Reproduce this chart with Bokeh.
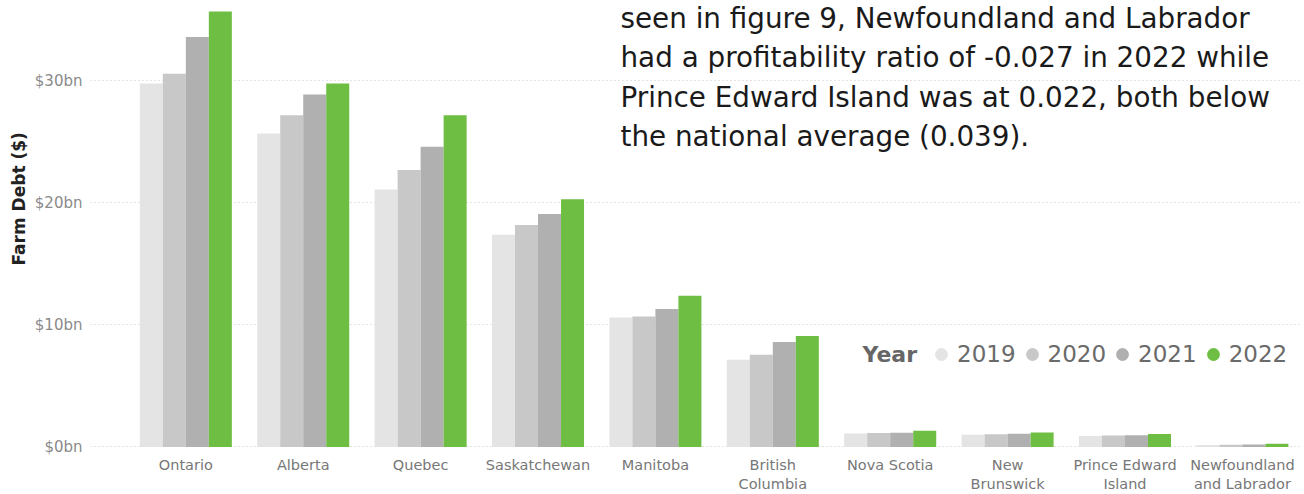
from bokeh.plotting import figure
from bokeh.models import (ColumnDataSource, Range1d, FixedTicker, Label, Legend, LegendItem)
from bokeh.transform import dodge
from bokeh.embed import file_html
from bokeh.resources import INLINE

# ---------------- data ----------------
provinces = ["Ontario", "Alberta", "Quebec", "Saskatchewan", "Manitoba",
             "British\nColumbia", "Nova Scotia", "New\nBrunswick",
             "Prince Edward\nIsland", "Newfoundland\nand Labrador"]
years = ["2019", "2020", "2021", "2022"]
debt_2019 = [29.8, 25.7, 21.1, 17.4, 10.6, 7.15, 1.10, 1.00, 0.90, 0.16]
debt_2020 = [30.6, 27.2, 22.7, 18.2, 10.7, 7.55, 1.13, 1.03, 0.93, 0.18]
debt_2021 = [33.6, 28.9, 24.6, 19.1, 11.3, 8.6, 1.15, 1.07, 0.96, 0.20]
debt_2022 = [35.7, 29.8, 27.2, 20.3, 12.4, 9.1, 1.32, 1.17, 1.06, 0.25]
y_ticks = [0, 10, 20, 30]
y_tick_labels = ["$0bn", "$10bn", "$20bn", "$30bn"]
year_colors = ["#e4e4e4", "#c8c8c8", "#b0b0b0", "#6fbe44"]

text_lines = ["seen in figure 9, Newfoundland and Labrador",
              "had a profitability ratio of -0.027 in 2022 while",
              "Prince Edward Island was at 0.022, both below",
              "the national average (0.039)."]

source = ColumnDataSource(dict(
    xi=list(range(len(provinces))),
    y2019=debt_2019, y2020=debt_2020, y2021=debt_2021, y2022=debt_2022,
))

p = figure(width=1304, height=494, output_backend="svg", toolbar_location=None,
           x_range=Range1d(-0.812, 9.495), y_range=Range1d(-0.05, 36.6),
           min_border_left=90, min_border_right=4, min_border_top=0,
           min_border_bottom=40)
p.outline_line_color = None
p.background_fill_color = "white"
p.border_fill_color = "white"

bw = 0.196
offsets = [-1.5 * bw, -0.5 * bw, 0.5 * bw, 1.5 * bw]
for yr, off, col in zip(years, offsets, year_colors):
    p.vbar(x=dodge("xi", off, range=p.x_range), top="y" + yr, bottom=0,
           width=bw, source=source, fill_color=col, line_color=None)

# axes
p.xaxis.ticker = FixedTicker(ticks=list(range(len(provinces))))
p.xaxis.major_label_overrides = {i: name for i, name in enumerate(provinces)}
p.xaxis.major_label_text_font = "DejaVu Sans"
p.xaxis.major_label_text_font_size = "14.5px"
p.xaxis.major_label_text_color = "#777777"
p.xaxis.major_label_standoff = 9
p.xaxis.axis_line_color = None
p.xaxis.major_tick_line_color = None
p.xaxis.minor_tick_line_color = None
p.xaxis.major_tick_out = 0
p.xaxis.major_tick_in = 0
p.xaxis.minor_tick_out = 0

p.yaxis.ticker = FixedTicker(ticks=y_ticks)
p.yaxis.major_label_overrides = {t: s for t, s in zip(y_ticks, y_tick_labels)}
p.yaxis.major_label_text_font = "DejaVu Sans"
p.yaxis.major_label_text_font_size = "15px"
p.yaxis.major_label_text_color = "#8a8a8a"
p.yaxis.major_label_standoff = 8
p.yaxis.axis_line_color = None
p.yaxis.major_tick_line_color = None
p.yaxis.minor_tick_line_color = None
p.yaxis.major_tick_out = 0
p.yaxis.major_tick_in = 0
p.yaxis.minor_tick_out = 0

p.xgrid.visible = False
p.ygrid.grid_line_color = "#c8c8c8"
p.ygrid.grid_line_dash = "1 3"
p.ygrid.grid_line_width = 1

# y axis title (as a left-side title, rotated)
p.title_location = "left"
p.title.text = "Farm Debt ($)"
p.title.text_font = "DejaVu Sans"
p.title.text_font_style = "bold"
p.title.text_font_size = "17px"
p.title.text_color = "#222222"
p.title.align = "left"
p.title.offset = 182
p.title.standoff = 6

# legend (circle markers from hidden scatter renderers)
legend_items = []
for yr, col in zip(years, year_colors):
    r = p.scatter(x="xi", y="y" + yr, source=source, marker="circle",
                  fill_color=col, line_color=None, visible=False)
    legend_items.append(LegendItem(label=yr, renderers=[r]))
legend = Legend(items=legend_items, orientation="horizontal",
                location=(835, 77), padding=0, margin=0, spacing=0,
                glyph_width=32, glyph_height=32, label_standoff=-7,
                label_text_font="DejaVu Sans", label_text_font_size="23px",
                label_text_color="#6a6a6a", click_policy="none",
                border_line_color=None, background_fill_alpha=0)
p.add_layout(legend)
p.add_layout(Label(x=772, y=93, x_units="screen", y_units="screen",
                   text="Year", text_font="DejaVu Sans", text_font_style="bold",
                   text_font_size="22px", text_color="#666666",
                   text_baseline="middle"))

# overlaid paragraph text
baselines = [429, 389.7, 350.4, 311.1]
for line, b in zip(text_lines, baselines):
    p.add_layout(Label(x=530, y=b, x_units="screen", y_units="screen",
                       text=line, text_font="DejaVu Sans", text_font_size="27.8px",
                       text_color="#1a1a1a", text_baseline="alphabetic"))

open("out.html", "w").write(file_html(p, INLINE))
